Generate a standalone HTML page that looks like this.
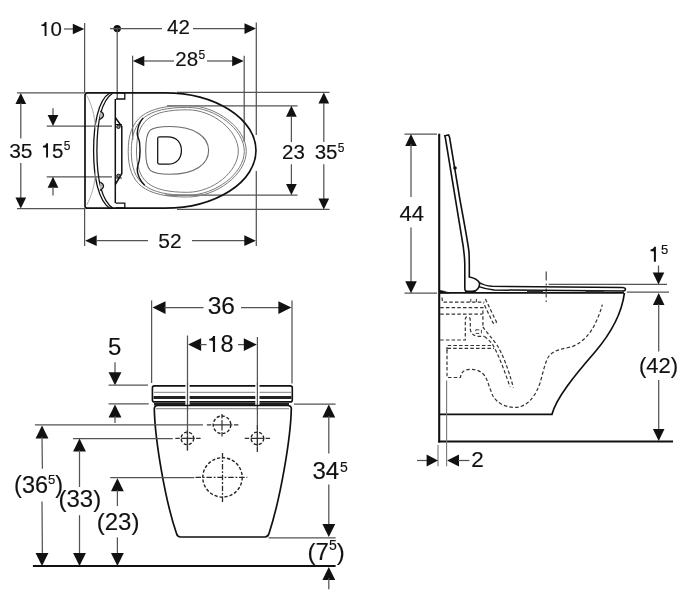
<!DOCTYPE html>
<html><head><meta charset="utf-8"><style>
html,body{margin:0;padding:0;background:#fff;width:700px;height:594px;overflow:hidden}
svg{display:block;will-change:transform}
text{font-family:"Liberation Sans",sans-serif;fill:#111;stroke:#111;stroke-width:0.15}
</style></head><body>
<svg width="700" height="594" viewBox="0 0 700 594">
<path d="M 46.50 21.90 V 36.07 H 44.60 V 26.33 C 43.78 26.02, 42.54 26.02, 41.41 26.02 V 24.47 C 42.75 24.47, 44.39 23.75, 44.81 21.90 Z" fill="#111"/>
<text x="50.6" y="36" font-size="20.5" text-anchor="start">0</text>
<line x1="64" y1="29" x2="74" y2="29" stroke="#545454" stroke-width="1.25" />
<polygon points="84.3,29 72.8,23.65 72.8,34.35" fill="#111"/>
<line x1="84.6" y1="23" x2="84.6" y2="93" stroke="#545454" stroke-width="1.25" />
<line x1="84.6" y1="208" x2="84.6" y2="246" stroke="#545454" stroke-width="1.25" />
<circle cx="117.2" cy="28.6" r="3.7" fill="#111"/>
<line x1="110" y1="28.6" x2="162" y2="28.6" stroke="#545454" stroke-width="1.25" />
<line x1="193" y1="28.6" x2="246" y2="28.6" stroke="#545454" stroke-width="1.25" />
<polygon points="256,28.6 244.5,23.25 244.5,33.95" fill="#111"/>
<text x="167" y="33.7" font-size="20.5" text-anchor="start">42</text>
<line x1="117.2" y1="28.6" x2="117.2" y2="99" stroke="#545454" stroke-width="1.25" />
<line x1="256.3" y1="22.5" x2="256.3" y2="135" stroke="#545454" stroke-width="1.25" />
<line x1="256.3" y1="171" x2="256.3" y2="246" stroke="#545454" stroke-width="1.25" />
<line x1="132.6" y1="55.7" x2="132.6" y2="140" stroke="#545454" stroke-width="1.25" />
<line x1="244.2" y1="55.7" x2="244.2" y2="142" stroke="#545454" stroke-width="1.25" />
<polygon points="132.9,61 144.3,55.65 144.3,66.35" fill="#111"/>
<line x1="144" y1="61" x2="174" y2="61" stroke="#545454" stroke-width="1.25" />
<text x="175.3" y="65.5" font-size="20.5" text-anchor="start">28</text>
<text x="198.4" y="58.7" font-size="12" text-anchor="start">5</text>
<line x1="207" y1="61" x2="233" y2="61" stroke="#545454" stroke-width="1.25" />
<polygon points="243.7,61 232.2,55.65 232.2,66.35" fill="#111"/>
<line x1="17" y1="92.8" x2="84" y2="92.8" stroke="#545454" stroke-width="1.25" />
<line x1="17" y1="208.5" x2="84" y2="208.5" stroke="#545454" stroke-width="1.25" />
<polygon points="20.8,93 15.45,104 26.150000000000002,104" fill="#111"/>
<line x1="20.8" y1="103" x2="20.8" y2="138.5" stroke="#545454" stroke-width="1.25" />
<text x="9.2" y="157.8" font-size="21" text-anchor="start">35</text>
<line x1="20.8" y1="163" x2="20.8" y2="199" stroke="#545454" stroke-width="1.25" />
<polygon points="20.8,208.5 15.45,197.5 26.150000000000002,197.5" fill="#111"/>
<line x1="46.7" y1="126" x2="112" y2="126" stroke="#545454" stroke-width="1.25" />
<line x1="46.7" y1="176.8" x2="112" y2="176.8" stroke="#545454" stroke-width="1.25" />
<line x1="53" y1="108.3" x2="53" y2="116" stroke="#545454" stroke-width="1.25" />
<polygon points="53,126 47.65,115 58.35,115" fill="#111"/>
<polygon points="53,176.8 47.65,187.8 58.35,187.8" fill="#111"/>
<line x1="53" y1="187" x2="53" y2="195.6" stroke="#545454" stroke-width="1.25" />
<path d="M 47.99 143.30 V 157.40 H 46.10 V 147.71 C 45.28 147.40, 44.05 147.40, 42.92 147.40 V 145.86 C 44.26 145.86, 45.90 145.15, 46.30 143.30 Z" fill="#111"/>
<text x="52.1" y="157.5" font-size="20.5" text-anchor="start">5</text>
<text x="63.8" y="150.2" font-size="12" text-anchor="start">5</text>
<line x1="167" y1="105.8" x2="297.6" y2="105.8" stroke="#545454" stroke-width="1.25" />
<line x1="165" y1="195.1" x2="297.6" y2="195.1" stroke="#545454" stroke-width="1.25" />
<polygon points="291.4,105.8 286.04999999999995,116.8 296.75,116.8" fill="#111"/>
<line x1="291.4" y1="116" x2="291.4" y2="142" stroke="#545454" stroke-width="1.25" />
<text x="282" y="159.2" font-size="20.5" text-anchor="start">23</text>
<line x1="291.4" y1="164.3" x2="291.4" y2="185" stroke="#545454" stroke-width="1.25" />
<polygon points="291.4,195 286.04999999999995,184 296.75,184" fill="#111"/>
<line x1="177" y1="92.4" x2="329.5" y2="92.4" stroke="#545454" stroke-width="1.25" />
<line x1="177" y1="209.4" x2="329.5" y2="209.4" stroke="#545454" stroke-width="1.25" />
<polygon points="323.8,92.5 318.45,103.5 329.15000000000003,103.5" fill="#111"/>
<line x1="323.8" y1="103" x2="323.8" y2="142" stroke="#545454" stroke-width="1.25" />
<text x="314.7" y="159.1" font-size="20.5" text-anchor="start">35</text>
<text x="337.7" y="152" font-size="12" text-anchor="start">5</text>
<line x1="323.8" y1="164.3" x2="323.8" y2="199" stroke="#545454" stroke-width="1.25" />
<polygon points="323.8,209.4 318.45,198.4 329.15000000000003,198.4" fill="#111"/>
<polygon points="85.2,240.7 96.7,235.35 96.7,246.04999999999998" fill="#111"/>
<line x1="96" y1="240.7" x2="148" y2="240.7" stroke="#545454" stroke-width="1.25" />
<text x="158.3" y="248" font-size="21" text-anchor="start">52</text>
<line x1="192" y1="240.7" x2="245" y2="240.7" stroke="#545454" stroke-width="1.25" />
<polygon points="255.8,240.7 244.3,235.35 244.3,246.04999999999998" fill="#111"/>
<path d="M 187.3 105.5 C 216.80 105.5, 246.3 128.38, 246.3 151.25 C 246.3 174.12, 216.80 197, 187.3 197 C 144.75 197, 128.2 184.19, 128.2 151.25 C 128.2 118.31, 144.75 105.5, 187.3 105.5 Z" stroke="#7a7a7a" stroke-width="1.0" fill="none" />
<path d="M 187.5 107.4 C 215.90 107.4, 244.3 129.35, 244.3 151.3 C 244.3 173.25, 215.90 195.2, 187.5 195.2 C 147.04 195.2, 131.3 182.91, 131.3 151.3 C 131.3 119.69, 147.04 107.4, 187.5 107.4 Z" stroke="#7a7a7a" stroke-width="1.0" fill="none" />
<path d="M 187.5 109.8 C 212.90 109.8, 238.3 130.40, 238.3 151 C 238.3 171.65, 212.90 192.3, 187.5 192.3 C 149.76 192.3, 136.5 181.56, 136.5 151 C 136.5 120.51, 149.76 109.8, 187.5 109.8 Z" stroke="#7a7a7a" stroke-width="1.0" fill="none" />
<path d="M 170 126.5 C 195 126.5, 208.6 137, 208.6 150.5 C 208.6 164, 195 174.3, 170 174.3 C 150 174.3, 145.7 172, 145.7 150.5 C 145.7 129, 149 126.5, 170 126.5 Z" stroke="#6a6a6a" stroke-width="1.1" fill="none" />
<path d="M 143.2 117.9 C 139.5 122, 137.5 128, 137.2 133.8 C 137.3 137, 139.3 139, 139.6 143 C 140.2 148, 140.2 153, 139.6 158 C 139.2 163, 137.2 166, 137.2 169.5 C 137.2 174, 140 181, 144.7 185.3" stroke="#111" stroke-width="1.4" fill="none" />
<path d="M 157.7 138.5 Q 157.7 136.8 159.5 136.8 H 168 C 176.5 136.8, 181.4 142.5, 181.4 150.5 C 181.4 158.5, 176.5 164.2, 168 164.2 H 159.5 Q 157.7 164.2 157.7 162.5 Z" stroke="#111" stroke-width="1.25" fill="none" />
<path d="M 85 205.5 V 95.3 Q 85 92.8 87.5 92.8 H 165 A 91 57.7 0 0 1 165 208.2 H 87.5 Q 85 208.2 85 205.7 Z" stroke="#111" stroke-width="1.7" fill="none" />
<path d="M 116 92.8 H 124.8 V 99 H 116" stroke="#111" stroke-width="1.3" fill="none" />
<path d="M 116 207.8 H 124.8 V 203.2 H 116" stroke="#111" stroke-width="1.3" fill="none" />
<line x1="115.3" y1="99" x2="115.3" y2="203.2" stroke="#111" stroke-width="1.5" />
<path d="M 115.3 117.5 L 121.8 126.5 V 173.5 L 115.3 184.5" stroke="#111" stroke-width="1.5" fill="none" />
<circle cx="118.4" cy="126.8" r="1.7" stroke="#111" stroke-width="1" fill="#888"/>
<circle cx="118.4" cy="175.8" r="1.7" stroke="#111" stroke-width="1" fill="#888"/>
<line x1="115.3" y1="124.5" x2="121.8" y2="124.5" stroke="#111" stroke-width="1" />
<line x1="115.3" y1="178" x2="121.8" y2="178" stroke="#111" stroke-width="1" />
<path d="M 109.7 93 C 98 100, 93.6 125, 93.6 150.5 C 93.6 176, 98 201, 110.5 208.8" stroke="#111" stroke-width="1.3" fill="none" />
<path d="M 112.5 93.2 C 101 101, 96.9 125, 96.9 150.5 C 96.9 176, 101 200, 113 208.4" stroke="#111" stroke-width="1.3" fill="none" />
<path d="M 100.3 111 Q 103.8 113 103.6 115.5 Q 103 118 99.8 119.5" stroke="#111" stroke-width="1.1" fill="#bbb" />
<path d="M 100.3 182 Q 103.8 184 103.6 186.5 Q 103 189 99.8 190.5" stroke="#111" stroke-width="1.1" fill="#bbb" />
<path d="M 86.7 95.3 C 91 103, 95 115, 95.6 130" stroke="#aaa" stroke-width="1" fill="none" />
<path d="M 86.7 205 C 91 197, 95 186, 95.6 171" stroke="#aaa" stroke-width="1" fill="none" />
<line x1="404.5" y1="134" x2="437" y2="134" stroke="#545454" stroke-width="1.25" />
<line x1="404.5" y1="293" x2="437" y2="293" stroke="#545454" stroke-width="1.25" />
<polygon points="411,134 405.222,146 416.778,146" fill="#111"/>
<line x1="411" y1="144" x2="411" y2="197" stroke="#545454" stroke-width="1.25" />
<text x="399.5" y="220.7" font-size="22" text-anchor="start">44</text>
<line x1="411" y1="227.6" x2="411" y2="283" stroke="#545454" stroke-width="1.25" />
<polygon points="411,293.3 405.222,281.2 416.778,281.2" fill="#111"/>
<line x1="439.2" y1="133.8" x2="439.2" y2="442.4" stroke="#111" stroke-width="2.1" />
<line x1="438.2" y1="441.4" x2="673" y2="441.4" stroke="#111" stroke-width="2" />
<line x1="439" y1="292.9" x2="624" y2="292.9" stroke="#111" stroke-width="1.6" />
<path d="M 440 414.3 H 552 C 556 398, 575 375, 595 352 C 612 332, 622 312, 624.4 293" stroke="#111" stroke-width="1.7" fill="none" />
<line x1="446.6" y1="380.5" x2="446.6" y2="466.3" stroke="#777" stroke-width="1.1" />
<line x1="438" y1="444.9" x2="438" y2="466.3" stroke="#777" stroke-width="1.1" />
<line x1="417" y1="460.5" x2="428" y2="460.5" stroke="#545454" stroke-width="1.25" />
<polygon points="438,460.5 426.6,454.615 426.6,466.385" fill="#111"/>
<polygon points="447.1,460.5 459,454.615 459,466.385" fill="#111"/>
<line x1="458" y1="460.5" x2="469.4" y2="460.5" stroke="#545454" stroke-width="1.25" />
<text x="471.3" y="466.7" font-size="22.5" text-anchor="start">2</text>
<polygon points="658.7,292.9 652.922,304.9 664.4780000000001,304.9" fill="#111"/>
<line x1="658.7" y1="304" x2="658.7" y2="351.6" stroke="#545454" stroke-width="1.25" />
<text x="638.9" y="372.7" font-size="22" text-anchor="start">(42)</text>
<line x1="658.7" y1="380" x2="658.7" y2="430" stroke="#545454" stroke-width="1.25" />
<polygon points="658.7,441 652.922,429 664.4780000000001,429" fill="#111"/>
<line x1="548.6" y1="284.4" x2="667" y2="284.4" stroke="#545454" stroke-width="1.25" />
<line x1="626.8" y1="292.2" x2="669" y2="292.2" stroke="#545454" stroke-width="1.25" />
<line x1="658.5" y1="265.5" x2="658.5" y2="274" stroke="#545454" stroke-width="1.25" />
<polygon points="658.5,284.4 652.722,272.4 664.278,272.4" fill="#111"/>
<path d="M 655.91 246.80 V 261.80 H 653.90 V 251.49 C 653.03 251.16, 651.72 251.16, 650.52 251.16 V 249.53 C 651.94 249.53, 653.68 248.76, 654.12 246.80 Z" fill="#111"/>
<text x="660.9" y="254.3" font-size="13" text-anchor="start">5</text>
<line x1="546.2" y1="271.6" x2="546.2" y2="302" stroke="#444" stroke-width="1.2" stroke-dasharray="9,3,2,3"/>
<path d="M 445.3 137.5 L 444.8 135.8 L 448.6 135 L 449.6 137.5 L 460 200 C 464 222, 467.5 240, 469 252 C 469.5 262, 469.3 268, 469.3 277 C 472.5 277.6, 477.5 279.3, 479.3 282.5 C 480.3 286, 477.5 291.6, 472 291.8 H 467.5 C 465.5 291.8, 464.8 290, 464.8 288 L 464.8 264 C 464.5 252, 463 244, 461.5 236 L 445.3 137.5 Z" stroke="#111" stroke-width="1.6" fill="none" />
<circle cx="455" cy="168" r="1.8" fill="#111"/>
<path d="M 479.3 282.5 C 482 284.3, 486 285.8, 492 286.3 L 622 287.4 Q 625.5 287.6 625.5 289.3 Q 625.5 291.1 622 291.1 L 494 290 C 487 289.2, 482 287.8, 478.9 286.6" stroke="#111" stroke-width="1.5" fill="none" />
<line x1="465.7" y1="291.6" x2="475.7" y2="291.6" stroke="#111" stroke-width="2.2" />
<line x1="527" y1="291.5" x2="543" y2="291.5" stroke="#333" stroke-width="1.8" />
<line x1="585.6" y1="291.5" x2="603.8" y2="291.5" stroke="#333" stroke-width="1.8" />
<path d="M 439.5 290.3 Q 444 290.8 449.5 293 L 439.5 293 Z" stroke="#111" stroke-width="0.6" fill="#111" />
<path d="M 442 297.5 L 442.5 302.1 L 484.4 302.1" stroke="#333" stroke-width="1.2" fill="none" stroke-dasharray="3.5,2.2"/>
<path d="M 470.8 298.8 V 302" stroke="#333" stroke-width="1" fill="none" stroke-dasharray="3.5,2.2"/>
<path d="M 476.4 298.8 V 302" stroke="#333" stroke-width="1" fill="none" stroke-dasharray="3.5,2.2"/>
<path d="M 485.4 299 L 496.5 322 Q 495 324.5 493 322.8 L 483.4 303" stroke="#333" stroke-width="1.2" fill="none" stroke-dasharray="3.5,2.2"/>
<path d="M 440.2 307.6 H 482.9 V 326.8" stroke="#333" stroke-width="1.2" fill="none" stroke-dasharray="3.5,2.2"/>
<path d="M 440.2 314.2 H 482.4" stroke="#333" stroke-width="1.2" fill="none" stroke-dasharray="3.5,2.2"/>
<path d="M 440.2 340 H 465.3 V 319 Q 465.5 316.5 468 317 Q 470.3 317.5 470.3 320.3 V 329.3 Q 471 335.5 478.4 336.4 H 484.4" stroke="#333" stroke-width="1.2" fill="none" stroke-dasharray="3.5,2.2"/>
<path d="M 475.8 329.8 H 481.4 V 333.4 H 475.8 Z" stroke="#333" stroke-width="0.9" fill="none" stroke-dasharray="3.5,2.2"/>
<path d="M 482.9 326.8 C 487 333, 492 338, 497 345 C 503 355, 508 368, 513.4 387.6" stroke="#333" stroke-width="1.2" fill="none" stroke-dasharray="3.5,2.2"/>
<path d="M 484.4 336.4 C 488 339, 491 342, 493.5 346 C 499 356, 505 372, 510 387" stroke="#333" stroke-width="1.2" fill="none" stroke-dasharray="3.5,2.2"/>
<path d="M 447 350.5 V 345.5 H 492.5" stroke="#333" stroke-width="1.2" fill="none" stroke-dasharray="3.5,2.2"/>
<path d="M 447.5 348.3 H 494" stroke="#333" stroke-width="1.2" fill="none" stroke-dasharray="3.5,2.2"/>
<path d="M 447 350 V 377.5 H 460.5 C 461 372, 464 369.5, 470 369.3 C 476 369, 481 371, 485 376 C 488 381, 490 390, 493 396 C 497 403, 505 407.4, 515 407.4 C 526 407.4, 535 398, 540 383 C 543 373, 545 362, 549 356 C 554 350, 562 349, 571.4 346.9 C 582 343, 591 334, 596.6 320.6 C 599 315, 601 310, 602.3 304.6" stroke="#333" stroke-width="1.2" fill="none" stroke-dasharray="3.5,2.2"/>
<line x1="151.6" y1="300.4" x2="151.6" y2="383" stroke="#545454" stroke-width="1.25" />
<line x1="292" y1="300.4" x2="292" y2="383.6" stroke="#545454" stroke-width="1.25" />
<polygon points="152.5,307.6 165.5,301.18 165.5,314.02000000000004" fill="#111"/>
<line x1="164" y1="307.6" x2="203.5" y2="307.6" stroke="#545454" stroke-width="1.25" />
<text x="207.7" y="314.1" font-size="24.5" text-anchor="start">36</text>
<line x1="241" y1="307.6" x2="280" y2="307.6" stroke="#545454" stroke-width="1.25" />
<polygon points="291.4,307.6 278.4,301.18 278.4,314.02000000000004" fill="#111"/>
<line x1="187.5" y1="335.5" x2="187.5" y2="450.5" stroke="#545454" stroke-width="1.25" />
<line x1="257.4" y1="337" x2="257.4" y2="451.8" stroke="#545454" stroke-width="1.25" />
<polygon points="188.1,344.6 201.1,338.18 201.1,351.02000000000004" fill="#111"/>
<line x1="200" y1="344.6" x2="206.6" y2="344.6" stroke="#545454" stroke-width="1.25" />
<path d="M 215.06 335.90 V 352.07 H 212.90 V 340.95 C 211.96 340.60, 210.55 340.60, 209.26 340.60 V 338.84 C 210.78 338.84, 212.66 338.01, 213.14 335.90 Z" fill="#111"/>
<text x="220.4" y="352.1" font-size="23.5" text-anchor="start">8</text>
<line x1="238" y1="344.6" x2="245" y2="344.6" stroke="#545454" stroke-width="1.25" />
<polygon points="256.8,344.6 243.8,338.18 243.8,351.02000000000004" fill="#111"/>
<text x="108" y="355.3" font-size="24" text-anchor="start">5</text>
<line x1="115" y1="362.2" x2="115" y2="373" stroke="#545454" stroke-width="1.25" />
<polygon points="115,385.2 108.58,372.2 121.42,372.2" fill="#111"/>
<line x1="108.6" y1="385.2" x2="148" y2="385.2" stroke="#545454" stroke-width="1.25" />
<line x1="108.6" y1="403.8" x2="148.7" y2="403.8" stroke="#545454" stroke-width="1.25" />
<polygon points="115,404.5 108.58,417.5 121.42,417.5" fill="#111"/>
<line x1="115" y1="416" x2="115" y2="423" stroke="#545454" stroke-width="1.25" />
<rect x="152.4" y="385.9" width="139.9" height="16" rx="2" stroke="#111" stroke-width="1.6" fill="none"/>
<line x1="154" y1="392.3" x2="291" y2="392.3" stroke="#999" stroke-width="1.3" />
<line x1="153.5" y1="397.5" x2="291.5" y2="397.5" stroke="#222" stroke-width="3" />
<line x1="154" y1="404.2" x2="289" y2="404.2" stroke="#222" stroke-width="2.4" />
<line x1="156" y1="408.7" x2="289" y2="408.7" stroke="#999" stroke-width="1.3" />
<rect x="185.4" y="385" width="4.2" height="22" fill="#fff"/>
<rect x="255.3" y="385" width="4.2" height="22" fill="#fff"/>
<line x1="187.5" y1="383" x2="187.5" y2="410" stroke="#545454" stroke-width="1.25" />
<line x1="257.4" y1="383" x2="257.4" y2="410" stroke="#545454" stroke-width="1.25" />
<path d="M 158 405.5 H 287.5 Q 291.4 405.5 291.3 409 C 290.6 440, 280 500, 269 533.5 Q 268 537 265 537 H 180.5 Q 177.5 537 176.6 533.8 C 165 500, 155 440, 154.3 409 Q 154.2 405.5 158 405.5 Z" stroke="#111" stroke-width="1.7" fill="none" />
<line x1="34.9" y1="424.9" x2="203" y2="424.9" stroke="#545454" stroke-width="1.25" />
<line x1="73" y1="438.6" x2="172.8" y2="438.6" stroke="#545454" stroke-width="1.25" />
<line x1="110.2" y1="477.6" x2="194.3" y2="477.6" stroke="#545454" stroke-width="1.25" />
<circle cx="222" cy="424.8" r="8.8" stroke="#222" stroke-width="1.4" fill="none" stroke-dasharray="3.2,1.9"/>
<line x1="206.9" y1="424.8" x2="238.4" y2="424.8" stroke="#333" stroke-width="1.2" stroke-dasharray="4.5,1.5,19.5,1.5,4.5"/>
<line x1="222" y1="413.9" x2="222" y2="436.6" stroke="#333" stroke-width="1.2" stroke-dasharray="4.5,1.5,10.7,1.5,4.5"/>
<circle cx="187.4" cy="438.4" r="6.3" stroke="#222" stroke-width="1.4" fill="none" stroke-dasharray="3.2,1.9"/>
<line x1="175.3" y1="438.4" x2="200.6" y2="438.4" stroke="#333" stroke-width="1.2" stroke-dasharray="4.5,1.5,13.3,1.5,4.5"/>
<line x1="187.4" y1="430.3" x2="187.4" y2="450.5" stroke="#333" stroke-width="1.2" stroke-dasharray="4.5,1.5,8.2,1.5,4.5"/>
<circle cx="257.4" cy="438.4" r="6.3" stroke="#222" stroke-width="1.4" fill="none" stroke-dasharray="3.2,1.9"/>
<line x1="244.7" y1="438.4" x2="270" y2="438.4" stroke="#333" stroke-width="1.2" stroke-dasharray="4.5,1.5,13.3,1.5,4.5"/>
<line x1="257.4" y1="425.3" x2="257.4" y2="451.8" stroke="#333" stroke-width="1.2" stroke-dasharray="4.5,1.5,14.5,1.5,4.5"/>
<circle cx="222.5" cy="477.4" r="19.7" stroke="#222" stroke-width="1.4" fill="none" stroke-dasharray="3.2,1.9"/>
<line x1="195.5" y1="477.4" x2="247.3" y2="477.4" stroke="#2a2a2a" stroke-width="1.3" stroke-dasharray="5.5,1.8,1.8,1.8"/>
<line x1="222.5" y1="453" x2="222.5" y2="502.3" stroke="#2a2a2a" stroke-width="1.3" stroke-dasharray="5.5,1.8,1.8,1.8"/>
<line x1="32.9" y1="566" x2="335.6" y2="566" stroke="#111" stroke-width="2" />
<polygon points="42,425.4 35.58,438.4 48.42,438.4" fill="#111"/>
<line x1="42" y1="437" x2="42.4" y2="468.7" stroke="#545454" stroke-width="1.25" />
<text x="14.1" y="492.5" font-size="23.5">(36<tspan font-size="13" dy="-8.5">5</tspan><tspan dy="8.5">)</tspan></text>
<line x1="42" y1="501.6" x2="42.4" y2="554.5" stroke="#545454" stroke-width="1.25" />
<polygon points="42,566.0 35.58,553.0 48.42,553.0" fill="#111"/>
<polygon points="79.5,438.6 73.08,451.6 85.92,451.6" fill="#111"/>
<line x1="79.5" y1="450" x2="79.5" y2="487" stroke="#545454" stroke-width="1.25" />
<text x="58.5" y="507.1" font-size="24" text-anchor="start">(33)</text>
<line x1="79.5" y1="515.2" x2="79.5" y2="554.5" stroke="#545454" stroke-width="1.25" />
<polygon points="79.5,566.0 73.08,553.0 85.92,553.0" fill="#111"/>
<polygon points="117.4,478.3 110.98,491.3 123.82000000000001,491.3" fill="#111"/>
<line x1="117.4" y1="490" x2="117.4" y2="506" stroke="#545454" stroke-width="1.25" />
<text x="96.7" y="529.6" font-size="24" text-anchor="start">(23)</text>
<line x1="117.4" y1="537.4" x2="117.4" y2="554.5" stroke="#545454" stroke-width="1.25" />
<polygon points="117.4,566.0 110.98,553.0 123.82000000000001,553.0" fill="#111"/>
<line x1="294" y1="404.2" x2="335.6" y2="404.2" stroke="#545454" stroke-width="1.25" />
<line x1="268.6" y1="537.8" x2="335.6" y2="537.8" stroke="#545454" stroke-width="1.25" />
<polygon points="328.8,404.4 322.38,417.4 335.22,417.4" fill="#111"/>
<line x1="328.8" y1="416" x2="328.8" y2="453.6" stroke="#545454" stroke-width="1.25" />
<text x="312.4" y="479" font-size="24" text-anchor="start">34</text>
<text x="339.9" y="472" font-size="14" text-anchor="start">5</text>
<line x1="328.8" y1="484.5" x2="328.8" y2="525" stroke="#545454" stroke-width="1.25" />
<polygon points="328.8,537.0 322.38,524.0 335.22,524.0" fill="#111"/>
<text x="307.6" y="559.5" font-size="24">(7<tspan font-size="14" dy="-9.5">5</tspan><tspan dy="9.5">)</tspan></text>
<polygon points="328.8,567.0 322.38,580.0 335.22,580.0" fill="#111"/>
<line x1="328.8" y1="578" x2="328.8" y2="589.3" stroke="#545454" stroke-width="1.25" />
</svg>
</body></html>
